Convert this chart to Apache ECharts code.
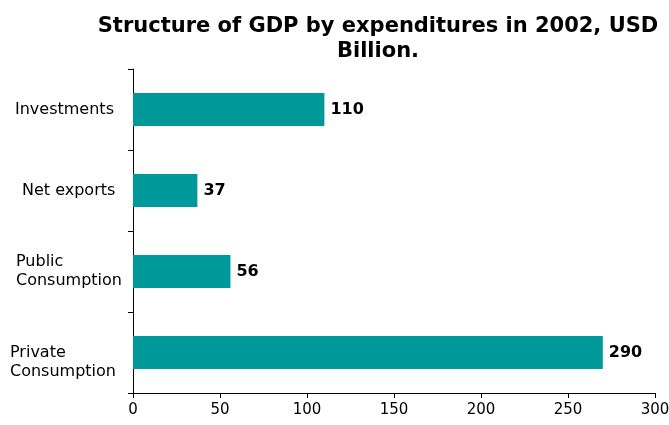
<!DOCTYPE html>
<html>
<head>
<meta charset="utf-8">
<script src="https://cdn.jsdelivr.net/npm/echarts@6/dist/echarts.min.js"></script>
<style>
  html, body { margin: 0; padding: 0; background: #fff; }
  #chart { width: 669px; height: 425px; }
</style>
</head>
<body>
<div id="chart"></div>
<script>
// categories bottom -> top
var categories = ['Private\nConsumption', 'Public\nConsumption', 'Net exports', 'Investments'];
// bar lengths as drawn
var values = [270, 56, 37, 110];
// labels as printed next to bars
var valueLabels = ['290', '56', '37', '110'];
var xTicks = [0, 50, 100, 150, 200, 250, 300];

var chart = echarts.init(document.getElementById('chart'));

// nudge y labels so they sit like the original
var labelPads = {
  'Private\nConsumption': [0, 0, 0, 0],
  'Public\nConsumption': [0, 0, 0, 6],
  'Net exports': [0, 0, 0, 12],
  'Investments': [0, 0, 0, 5]
};
var yData = categories.map(function (c) {
  return { value: c, textStyle: { align: 'left', padding: labelPads[c] } };
});

var option = {
  backgroundColor: '#fff',
  animation: false,
  title: {
    text: 'Structure of GDP by expenditures in 2002, USD\nBillion.',
    left: 373,
    top: 9,
    textAlign: 'center',
    textStyle: {
      fontFamily: 'DejaVu Sans',
      fontSize: 21,
      fontWeight: 'bold',
      color: '#000',
      lineHeight: 25
    }
  },
  grid: {
    left: 133,
    right: 14,
    top: 69,
    bottom: 32,
    containLabel: false,
    outerBoundsMode: 'none'
  },
  xAxis: {
    type: 'value',
    min: xTicks[0],
    max: xTicks[xTicks.length - 1],
    interval: 50,
    splitLine: { show: false },
    axisLine: { show: true, lineStyle: { color: '#000' } },
    axisTick: { show: true, length: 5, lineStyle: { color: '#000' } },
    axisLabel: {
      margin: 10,
      fontFamily: 'DejaVu Sans',
      fontSize: 15,
      color: '#000'
    }
  },
  yAxis: {
    type: 'category',
    data: yData,
    axisLine: { show: true, lineStyle: { color: '#000' } },
    axisTick: { show: true, length: 5, lineStyle: { color: '#000' } },
    axisLabel: {
      align: 'left',
      margin: 123,
      fontFamily: 'DejaVu Sans',
      fontSize: 16,
      lineHeight: 19,
      color: '#000',
      formatter: function (v) {
        // the bottom label sits a line lower in the original
        return v === categories[0] ? '\n' + v : v;
      }
    }
  },
  series: [
    {
      type: 'bar',
      data: values,
      barWidth: 33,
      itemStyle: { color: '#009999' },
      label: {
        show: true,
        position: 'right',
        distance: 6,
        formatter: function (p) {
          return valueLabels[p.dataIndex];
        },
        fontFamily: 'DejaVu Sans',
        fontSize: 16,
        fontWeight: 'bold',
        color: '#000'
      }
    }
  ]
};

chart.setOption(option);
</script>
</body>
</html>
